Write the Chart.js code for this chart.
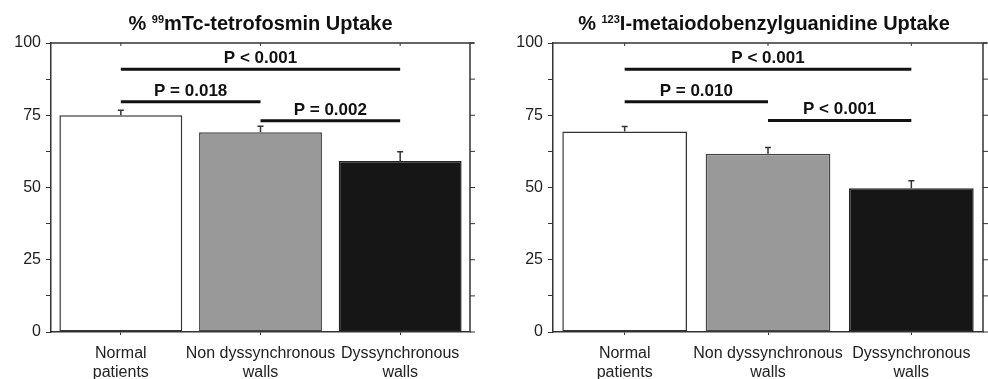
<!DOCTYPE html>
<html>
<head>
<meta charset="utf-8">
<script src="https://cdn.jsdelivr.net/npm/chart.js@4.4.1/dist/chart.umd.min.js"></script>
<style>
  body { margin: 0; background: #fff; }
  canvas { position: absolute; top: 0; }
</style>
</head>
<body>
<canvas id="left" width="494" height="379" style="left:0"></canvas>
<canvas id="right" width="494" height="379" style="left:494px"></canvas>
<script>
const categories = [['Normal', 'patients'], ['Non dyssynchronous', 'walls'], ['Dyssynchronous', 'walls']];
const barColors = ['#ffffff', '#999999', '#161616'];

const tetroMeans = [75.0, 69.1, 59.2];
const tetroErrors = [1.7, 2.1, 3.2];
const tetroPairs = [[0, 2], [0, 1], [1, 2]];
const tetroSigY = [90.9, 79.7, 73.1];
const tetroSigText = ['P < 0.001', 'P = 0.018', 'P = 0.002'];

const mibgMeans = [69.4, 61.7, 49.7];
const mibgErrors = [1.7, 2.1, 2.6];
const mibgPairs = [[0, 2], [0, 1], [1, 2]];
const mibgSigY = [90.9, 79.7, 73.2];
const mibgSigText = ['P < 0.001', 'P = 0.010', 'P < 0.001'];

const yMax = 100;
const yStep = 12.5;
const yLabelStep = 25;

const FONT = 'Arial, "Liberation Sans", sans-serif';
const INK = '#333';

function makeChart(id, titlePre, titleSup, titlePost, titleShift, means, errors, pairs, sigY, sigText, padRight, yWidth, barPct) {
  const overlay = {
    id: 'overlay' + id,
    afterDatasetsDraw(chart) {
      const { ctx, chartArea: a, scales: { x, y } } = chart;
      ctx.save();
      // error bars (upper only)
      ctx.strokeStyle = INK;
      ctx.lineWidth = 1.5;
      means.forEach((m, i) => {
        const px = x.getPixelForValue(i);
        const y0 = y.getPixelForValue(m);
        const y1 = y.getPixelForValue(m + errors[i]);
        ctx.beginPath();
        ctx.moveTo(px, y0);
        ctx.lineTo(px, y1);
        ctx.moveTo(px - 3, y1);
        ctx.lineTo(px + 3, y1);
        ctx.stroke();
      });
      // significance bars
      ctx.strokeStyle = '#111';
      ctx.lineWidth = 3;
      ctx.fillStyle = '#111';
      ctx.font = 'bold 17px ' + FONT;
      ctx.textAlign = 'center';
      ctx.textBaseline = 'alphabetic';
      pairs.forEach((p, i) => {
        const x0 = x.getPixelForValue(p[0]);
        const x1 = x.getPixelForValue(p[1]);
        const py = y.getPixelForValue(sigY[i]);
        ctx.beginPath();
        ctx.moveTo(x0, py);
        ctx.lineTo(x1, py);
        ctx.stroke();
        ctx.fillText(sigText[i], (x0 + x1) / 2, py - 6);
      });
      // frame: top and right with ticks
      ctx.strokeStyle = INK;
      ctx.lineWidth = 1.5;
      ctx.beginPath();
      ctx.moveTo(a.left, a.top);
      ctx.lineTo(a.right + 4, a.top);
      ctx.moveTo(a.right, a.top);
      ctx.lineTo(a.right, a.bottom);
      ctx.stroke();
      ctx.lineWidth = 1;
      ctx.beginPath();
      for (let v = 0; v <= yMax; v += yStep) {
        const py = y.getPixelForValue(v);
        ctx.moveTo(a.right, py);
        ctx.lineTo(a.right + 5, py);
      }
      means.forEach((m, i) => {
        const px = x.getPixelForValue(i);
        ctx.moveTo(px, a.top);
        ctx.lineTo(px, a.top + 3);
      });
      ctx.stroke();
      // title with superscript
      const cx = (a.left + a.right) / 2 + titleShift;
      ctx.fillStyle = '#111';
      ctx.textAlign = 'left';
      ctx.font = 'bold 20px ' + FONT;
      const w1 = ctx.measureText(titlePre).width;
      const w3 = ctx.measureText(titlePost).width;
      ctx.font = 'bold 11px ' + FONT;
      const w2 = ctx.measureText(titleSup).width;
      let tx = cx - (w1 + w2 + w3) / 2;
      const base = 30;
      ctx.font = 'bold 20px ' + FONT;
      ctx.fillText(titlePre, tx, base);
      tx += w1;
      ctx.font = 'bold 11px ' + FONT;
      ctx.fillText(titleSup, tx, base - 7);
      tx += w2;
      ctx.font = 'bold 20px ' + FONT;
      ctx.fillText(titlePost, tx, base);
      ctx.restore();
    }
  };

  return new Chart(document.getElementById(id), {
    type: 'bar',
    data: {
      labels: categories,
      datasets: [{
        data: means,
        backgroundColor: barColors,
        borderColor: ['#333', '#444', '#222'],
        borderWidth: 1.5,
        borderSkipped: false,
        categoryPercentage: 1,
        barPercentage: barPct
      }]
    },
    options: {
      responsive: false,
      animation: false,
      layout: { padding: { top: 43, right: padRight, left: 0, bottom: 0 } },
      plugins: { legend: { display: false }, tooltip: { enabled: false }, title: { display: false } },
      scales: {
        x: {
          offset: true,
          grid: { display: true, offset: false, drawOnChartArea: false, drawTicks: true, tickLength: 3, color: INK },
          border: { display: true, color: INK, width: 1.5 },
          ticks: { color: '#222', font: { family: FONT, size: 16 }, padding: 9, maxRotation: 0, autoSkip: false },
          afterFit(s) { s.height = 47; }
        },
        y: {
          min: 0,
          max: yMax,
          grid: { display: true, drawOnChartArea: false, drawTicks: true, tickLength: 5, color: INK },
          border: { display: true, color: INK, width: 1.5 },
          ticks: {
            stepSize: yStep,
            color: '#222',
            font: { family: FONT, size: 16 },
            padding: 5,
            autoSkip: false,
            callback: v => (v % yLabelStep === 0 ? String(v) : '')
          },
          afterFit(s) { s.width = yWidth; }
        }
      }
    },
    plugins: [overlay]
  });
}

makeChart('left', '% ', '99', 'mTc-tetrofosmin Uptake', 0, tetroMeans, tetroErrors, tetroPairs, tetroSigY, tetroSigText, 24, 51, 0.88);
makeChart('right', '% ', '123', 'I-metaiodobenzylguanidine Uptake', -4, mibgMeans, mibgErrors, mibgPairs, mibgSigY, mibgSigText, 5, 59, 0.87);
</script>
</body>
</html>
